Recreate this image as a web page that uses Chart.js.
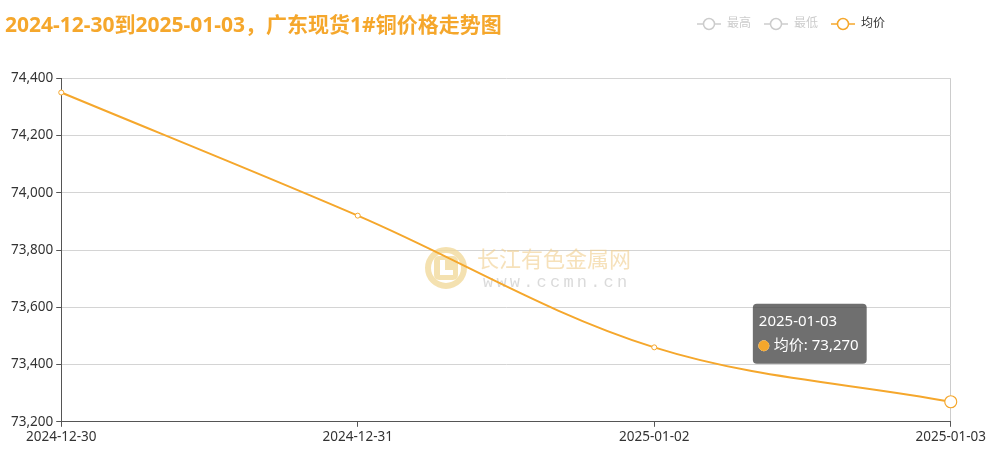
<!DOCTYPE html>
<html>
<head>
<meta charset="utf-8">
<script src="https://cdn.jsdelivr.net/npm/chart.js@4.4.1/dist/chart.umd.min.js"></script>
<style>
  html, body { margin: 0; padding: 0; background: #fff; }
  #wrap { width: 988px; height: 452px; }
</style>
</head>
<body>
<div id="wrap"><canvas id="myChart" width="988" height="452"></canvas></div>
<script>
// data
let dates = ['2024-12-30', '2024-12-31', '2025-01-02', '2025-01-03'];
let avgPrice = [74350, 73920, 73460, 73270];
let highPrice = []; // series hidden in the picture
let lowPrice = [];
let seriesNames = ['最高', '最低', '均价'];
let yTicks = [73200, 73400, 73600, 73800, 74000, 74200, 74400];
let chartTitle = '2024-12-30到2025-01-03，广东现货1#铜价格走势图';

const orange = '#f5a72c';
const font = "'Noto Sans', 'Noto Sans CJK SC', sans-serif";

//legend symbol: a short line with a hollow circle on it
function legendSymbol(color) {
  let c = document.createElement('canvas');
  c.width = 24;
  c.height = 14;
  let g = c.getContext('2d');
  g.strokeStyle = color;
  g.lineWidth = 1.5;
  g.beginPath();
  g.moveTo(0, 7);
  g.lineTo(24, 7);
  g.stroke();
  g.beginPath();
  g.arc(12, 7, 5.5, 0, Math.PI * 2);
  g.fillStyle = '#fff';
  g.fill();
  g.stroke();
  return c;
}

//watermark in the middle of the plot
const watermark = {
  id: 'watermark',
  beforeDatasetsDraw(chart) {
    let ctx = chart.ctx;
    ctx.save();
    ctx.strokeStyle = 'rgba(240, 215, 150, 0.75)';
    ctx.lineWidth = 6;
    ctx.beginPath();
    ctx.arc(446, 268, 18, 0, Math.PI * 2);
    ctx.stroke();
    ctx.fillStyle = 'rgba(240, 215, 150, 0.75)';
    ctx.beginPath();
    ctx.roundRect(434, 256, 24, 24, 5);
    ctx.fill();
    ctx.fillStyle = '#fff';
    ctx.fillRect(440, 260, 5, 15);
    ctx.fillRect(440, 270, 13, 5);
    ctx.font = "22px 'Noto Sans CJK SC', sans-serif";
    ctx.fillStyle = 'rgba(240, 205, 140, 0.6)';
    ctx.textBaseline = 'middle';
    ctx.fillText('长江有色金属网', 477, 259);
    ctx.font = "17px 'Liberation Mono', monospace";
    ctx.fillStyle = 'rgba(150, 150, 150, 0.35)';
    let site = 'www.ccmn.cn';
    for (let i = 0; i < site.length; i++) {
      ctx.fillText(site[i], 483 + i * 13.4, 282);
    }
    ctx.restore();
  }
};

//put the legend on the title row, right side; title flush left
const legendRow = {
  id: 'legendRow',
  afterLayout(chart) {
    let lg = chart.legend;
    let h = lg.bottom - lg.top;
    lg.top = 5;
    lg.bottom = 5 + h;
    lg.right = 898;
    let tb = chart.titleBlock;
    let w = tb.right - tb.left;
    tb.left = 5;
    tb.right = 5 + w;
  }
};

Chart.Tooltip.positioners.leftOf = function(items) {
  if (!items.length) return false;
  let el = items[0].element;
  return { x: el.x - 141, y: el.y - 68, xAlign: 'center', yAlign: 'center' };
};

let ctx = document.getElementById('myChart').getContext('2d');

let priceChart = new Chart(ctx, {
  type: 'line',
  data: {
    labels: dates,
    datasets: [{
      label: seriesNames[0],
      data: highPrice,
      hidden: true,
      borderColor: '#ccc'
    }, {
      label: seriesNames[1],
      data: lowPrice,
      hidden: true,
      borderColor: '#ccc'
    }, {
      label: seriesNames[2],
      data: avgPrice,
      borderColor: orange,
      backgroundColor: orange,
      borderWidth: 2,
      tension: 0.35,
      pointRadius: 2.5,
      pointBorderWidth: 1,
      pointBackgroundColor: '#fff',
      pointBorderColor: orange,
      pointHoverRadius: 6,
      pointHoverBorderWidth: 1.2,
      pointHoverBackgroundColor: '#fff',
      pointHoverBorderColor: orange
    }]
  },
  options: {
    responsive: false,
    animation: false,
    events: [],
    layout: {
      padding: { left: 8, right: 2, bottom: 5, top: 0 }
    },
    scales: {
      x: {
        offset: false,
        grid: {
          drawOnChartArea: true,
          color: c => c.index === dates.length - 1 ? '#ccc' : 'rgba(0,0,0,0)',
          tickColor: '#555',
          tickLength: 5
        },
        border: { color: '#555', width: 1 },
        ticks: {
          color: '#333',
          font: { family: font, size: 13.5 },
          padding: 2,
          maxRotation: 0,
          autoSkip: false
        }
      },
      y: {
        min: yTicks[0],
        max: yTicks[yTicks.length - 1],
        afterBuildTicks: axis => { axis.ticks = yTicks.map(v => ({ value: v })); },
        grid: {
          color: '#d4d4d4',
          tickColor: '#555',
          tickLength: 5
        },
        border: { color: '#555', width: 1 },
        ticks: {
          color: '#333',
          font: { family: font, size: 13.5 },
          padding: 3,
          callback: v => v.toLocaleString('en-US')
        }
      }
    },
    plugins: {
      title: {
        display: true,
        text: chartTitle,
        align: 'start',
        color: orange,
        font: { family: font, size: 21, weight: 'bold' },
        padding: { top: 13, bottom: 5 }
      },
      legend: {
        position: 'top',
        align: 'end',
        labels: {
          usePointStyle: true,
          pointStyleWidth: 24,
          padding: 13,
          font: { family: font, size: 12 },
          generateLabels: chart => chart.data.datasets.map((ds, i) => ({
            text: ds.label,
            fontColor: i === 2 ? '#333' : '#ccc',
            pointStyle: legendSymbol(i === 2 ? orange : '#ccc'),
            hidden: false,
            lineWidth: 0,
            strokeStyle: 'rgba(0,0,0,0)',
            fillStyle: 'rgba(0,0,0,0)',
            datasetIndex: i
          }))
        }
      },
      tooltip: {
        position: 'leftOf',
        backgroundColor: 'rgba(70, 70, 70, 0.78)',
        caretSize: 0,
        cornerRadius: 4,
        padding: { top: 9, bottom: 9, left: 6, right: 8 },
        titleFont: { family: font, size: 15, weight: 'normal' },
        bodyFont: { family: font, size: 15 },
        titleMarginBottom: 6,
        usePointStyle: true,
        boxWidth: 10,
        boxHeight: 10,
        boxPadding: 3,
        callbacks: {
          labelColor: () => ({ borderColor: orange, backgroundColor: orange }),
          labelPointStyle: () => ({ pointStyle: 'circle', rotation: 0 })
        }
      }
    }
  },
  plugins: [watermark, legendRow]
});

//show the tooltip on the last point as in the picture
let last = { datasetIndex: 2, index: avgPrice.length - 1 };
priceChart.setActiveElements([last]);
priceChart.tooltip.setActiveElements([last], { x: 0, y: 0 });
priceChart.update();
</script>
</body>
</html>
